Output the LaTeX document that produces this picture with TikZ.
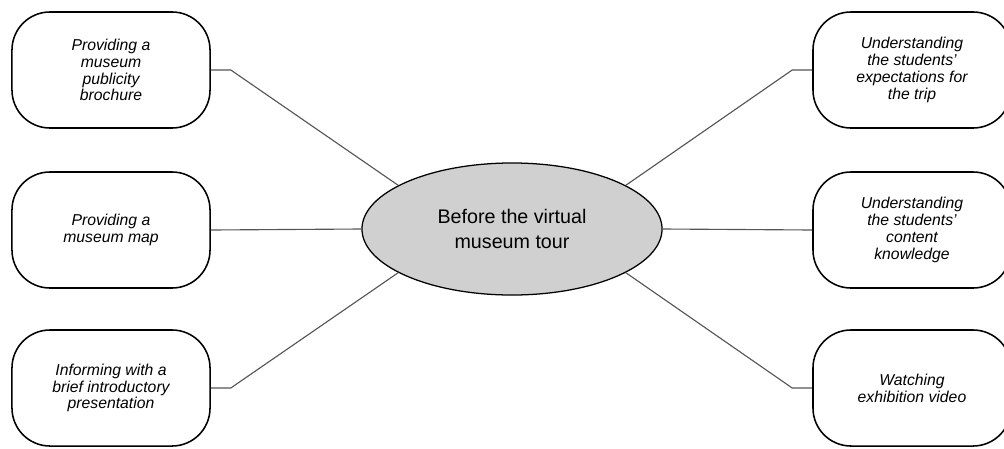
\documentclass[tikz,border=0pt]{standalone}
\usepackage{fontspec}
\setmainfont{Liberation Sans}
\usetikzlibrary{shapes.geometric}
\definecolor{cline}{HTML}{555555}
\definecolor{cfill}{HTML}{D0D0D0}
\tikzset{
  every picture/.style={font=\rmfamily},
  box/.style={draw=black, fill=white, rounded corners=0.95cm, align=center, line width=1.1pt,
    minimum width=4.95cm, minimum height=2.9cm, inner sep=4pt,
    font=\itshape\fontsize{11.2}{12}\selectfont},
  hub/.style={ellipse, draw=black, fill=cfill, line width=0.9pt, align=center, inner sep=0pt,
    minimum width=7.5cm, minimum height=3.3cm, font=\fontsize{14}{17.5}\selectfont},
  link/.style={draw=cline, line width=0.8pt},
}

\begin{document}
\begin{tikzpicture}[x=0.025cm, y=-0.025cm]
  \useasboundingbox (0,0) rectangle (1004,448);
  \node[hub] (c) at (512,229) {Before the virtual\\ museum tour};
  % left side
  \node[box] (tl) at (111,70) {Providing a\\ museum\\ publicity\\ brochure};
  \node[box] (ml) at (111,230) {Providing a\\ museum map};
  \node[box] (bl) at (111,388) {Informing with a\\ brief introductory\\ presentation};
  % right side
  \node[box] (tr) at (912,70) {Understanding\\ the students'\\ expectations for\\ the trip};
  \node[box] (mr) at (912,230) {Understanding\\ the students'\\ content\\ knowledge};
  \node[box] (br) at (912,388) {Watching\\ exhibition video};
  \draw[link] (tl.east) -- ++(20,0) -- (c.159);
  \draw[link] (ml.east) -- (c.west);
  \draw[link] (bl.east) -- ++(20,0) -- (c.201);
  \draw[link] (tr.west) -- ++(-20,0) -- (c.21);
  \draw[link] (mr.west) -- (c.east);
  \draw[link] (br.west) -- ++(-20,0) -- (c.-21);
\end{tikzpicture}
\end{document}
